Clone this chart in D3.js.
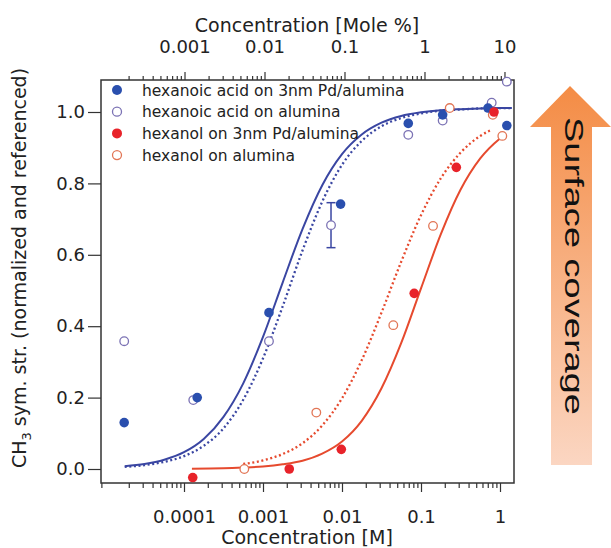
<!doctype html>
<html>
<head>
    <title>Surface coverage isotherms</title>
    <script src="https://d3js.org/d3.v7.min.js"></script>
    <style>
      body { margin: 0; background: white; }
      text { font-family: "DejaVu Sans", Verdana, sans-serif; fill: #222; }
    </style>
</head>
<body>
    <script>
    var width = 611, height = 548;

    // measured points, concentration in M
    var acidPdConc = [1.75e-5, 1.47e-4, 1.19e-3, 9.6e-3, 0.069, 0.188, 0.705, 1.22];
    var acidPdVal  = [0.130, 0.200, 0.438, 0.742, 0.968, 0.992, 1.011, 0.962];

    var acidAlConc = [1.75e-5, 1.31e-4, 1.19e-3, 7.26e-3, 0.069, 0.188, 0.785, 1.22];
    var acidAlVal  = [0.358, 0.193, 0.358, 0.683, 0.936, 0.976, 1.026, 1.085];
    var acidAlErr  = [0, 0, 0, 0.063, 0, 0, 0, 0];

    var olPdConc = [1.29e-4, 2.15e-3, 9.8e-3, 0.082, 0.28, 0.84];
    var olPdVal  = [-0.024, 0.0, 0.055, 0.492, 0.845, 1.0];

    var olAlConc = [5.8e-4, 4.73e-3, 0.0446, 0.142, 0.231, 0.81, 1.07];
    var olAlVal  = [0.0, 0.158, 0.403, 0.681, 1.011, 0.992, 0.933];

    // fitted curves
    var acidFitConc = [1.778e-5, 3.162e-5, 5.623e-5, 1e-4, 1.778e-4, 3.162e-4, 5.623e-4, 1e-3, 1.778e-3,
                       3.162e-3, 5.623e-3, 0.01, 0.01778, 0.03162, 0.05623, 0.1, 0.1778, 0.3162, 0.5623, 1, 1.413];
    var acidPdFit = [0.008, 0.014, 0.026, 0.047, 0.084, 0.146, 0.240, 0.370, 0.523, 0.672, 0.795,
                     0.882, 0.937, 0.970, 0.989, 0.999, 1.005, 1.008, 1.010, 1.011, 1.011];
    var acidAlFit = [0.006, 0.011, 0.020, 0.036, 0.065, 0.114, 0.194, 0.310, 0.456, 0.612, 0.749,
                     0.852, 0.919, 0.960, 0.983, 0.996, 1.004, 1.007, 1.010, 1.011, 1.011];

    var olPdFitConc = [1.26e-4, 3.162e-4, 5.623e-4, 1e-3, 1.778e-3, 3.162e-3, 5.623e-3, 0.01, 0.01778,
                       0.03162, 0.05623, 0.1, 0.1778, 0.3162, 0.5623, 1, 1.096];
    var olPdFit = [0.001, 0.002, 0.004, 0.007, 0.013, 0.023, 0.043, 0.077, 0.135,
                   0.226, 0.353, 0.506, 0.657, 0.782, 0.870, 0.926, 0.933];

    var olAlFitConc = [5.623e-4, 1e-3, 1.778e-3, 3.162e-3, 5.623e-3, 0.01, 0.01778, 0.03162,
                       0.05623, 0.1, 0.1778, 0.3162, 0.5623, 0.7943];
    var olAlFit = [0.014, 0.024, 0.042, 0.072, 0.122, 0.198, 0.305, 0.438, 0.581, 0.711, 0.814, 0.886, 0.933, 0.951];

    var bottomTicks = [0.0001, 0.001, 0.01, 0.1, 1];
    var topTicks = [0.001, 0.01, 0.1, 1, 10];
    var yTicks = [0, 0.2, 0.4, 0.6, 0.8, 1.0];
    var legendLabels = ["hexanoic acid on 3nm Pd/alumina", "hexanoic acid on alumina",
                        "hexanol on 3nm Pd/alumina", "hexanol on alumina"];

    var blueFill = "#2a4fae", blueLine = "#3a46a2", blueOpen = "#7b72b4";
    var redFill = "#e8232a", redLine = "#e64a2e", redOpen = "#e27656";

    // plot box (note: "top" is taken by window.top)
    var boxL = 101, boxR = 514, boxT = 80, boxB = 483;

    var x = d3.scaleLog().domain([Math.pow(10, -5.0506), Math.pow(10, 0.1772)]).range([boxL, boxR]);
    var xTop = d3.scaleLog().domain([Math.pow(10, -4.044), Math.pow(10, 1.119)]).range([boxL, boxR]);
    var y = d3.scaleLinear().domain([0, 1]).range([469, 112]);

    function minorTicks(scale) {
      var d = scale.domain(), out = [];
      for (var e = Math.floor(Math.log10(d[0])); e <= Math.ceil(Math.log10(d[1])); e++) {
        for (var k = 2; k <= 9; k++) {
          var v = k * Math.pow(10, e);
          if (v >= d[0] && v <= d[1]) out.push(v);
        }
      }
      return out;
    }

    var svg = d3.select("body").append("svg")
                .attr("width", width)
                .attr("height", height);

    // arrow on the right
    var grad = svg.append("defs").append("linearGradient")
                  .attr("id", "arrowGrad").attr("x1", 0).attr("y1", 0).attr("x2", 0).attr("y2", 1);
    grad.append("stop").attr("offset", "0%").attr("stop-color", "#f48c45");
    grad.append("stop").attr("offset", "100%").attr("stop-color", "#fbd6c2");

    svg.append("path")
       .attr("d", "M570,86 L611,127 L592,127 L592,465 L551,465 L551,127 L530,127 Z")
       .attr("fill", "url(#arrowGrad)");

    svg.append("text")
       .attr("transform", "translate(565,266) rotate(90)")
       .attr("text-anchor", "middle")
       .attr("textLength", 298)
       .attr("lengthAdjust", "spacingAndGlyphs")
       .style("font-family", "'Liberation Sans', Arial, sans-serif")
       .style("font-size", "26px")
       .style("fill", "#111")
       .text("Surface coverage");

    // axes
    var gBottom = svg.append("g").attr("transform", "translate(0," + boxB + ")");
    gBottom.call(d3.axisBottom(x).tickValues(minorTicks(x)).tickSize(5).tickFormat(""));
    var gBottomMajor = svg.append("g").attr("transform", "translate(0," + boxB + ")");
    gBottomMajor.call(d3.axisBottom(x).tickValues(bottomTicks).tickSize(9).tickFormat(d3.format("~g")));
    gBottomMajor.selectAll("text").attr("y", 40).attr("dy", 0).style("font-size", "18px");

    var gTop = svg.append("g").attr("transform", "translate(0," + boxT + ")");
    gTop.call(d3.axisTop(xTop).tickValues(minorTicks(xTop)).tickSize(4).tickFormat(""));
    var gTopMajor = svg.append("g").attr("transform", "translate(0," + boxT + ")");
    gTopMajor.call(d3.axisTop(xTop).tickValues(topTicks).tickSize(8).tickFormat(d3.format("~g")));
    gTopMajor.selectAll("text").attr("y", -27).attr("dy", 0).style("font-size", "18px");

    var gLeft = svg.append("g").attr("transform", "translate(" + boxL + ",0)");
    gLeft.call(d3.axisLeft(y).tickValues(yTicks).tickSize(13).tickFormat(d3.format(".1f")));
    gLeft.selectAll("text").attr("x", -16).style("font-size", "18px");

    svg.selectAll(".domain").remove();
    svg.selectAll(".tick line").attr("stroke", "#333").attr("stroke-width", 1.2);
    svg.selectAll(".tick text").style("fill", "#222").style("font-family", "'DejaVu Sans', Verdana, sans-serif");

    svg.append("rect")
       .attr("x", boxL).attr("y", boxT)
       .attr("width", boxR - boxL).attr("height", boxB - boxT)
       .attr("fill", "none").attr("stroke", "#333").attr("stroke-width", 1.5);

    // axis titles
    svg.append("text").attr("x", 307).attr("y", 32).attr("text-anchor", "middle")
       .style("font-size", "19px").text("Concentration [Mole %]");
    svg.append("text").attr("x", 307).attr("y", 544).attr("text-anchor", "middle")
       .style("font-size", "19px").text("Concentration [M]");

    var yl = svg.append("text").attr("transform", "translate(26,268) rotate(-90)")
                .attr("text-anchor", "middle").style("font-size", "19px");
    yl.append("tspan").text("CH");
    yl.append("tspan").attr("dy", 5).style("font-size", "13px").text("3");
    yl.append("tspan").attr("dy", -5).text(" sym. str. (normalized and referenced)");

    // fit curves
    var line = d3.line()
                 .x(function(d){ return x(d[0]); })
                 .y(function(d){ return y(d[1]); })
                 .curve(d3.curveMonotoneX);

    function drawCurve(conc, vals, color, dotted) {
      svg.append("path")
         .datum(d3.zip(conc, vals))
         .attr("d", line)
         .attr("fill", "none")
         .attr("stroke", color)
         .attr("stroke-width", dotted ? 2.3 : 2)
         .attr("stroke-dasharray", dotted ? "2,2.6" : null);
    }
    drawCurve(acidFitConc, acidAlFit, blueLine, true);
    drawCurve(acidFitConc, acidPdFit, blueLine, false);
    drawCurve(olAlFitConc, olAlFit, redLine, true);
    drawCurve(olPdFitConc, olPdFit, redLine, false);

    // error bars
    var errs = d3.zip(acidAlConc, acidAlVal, acidAlErr).filter(function(d){ return d[2] > 0; });
    var eb = svg.append("g").attr("stroke", blueLine).attr("stroke-width", 1.5).attr("fill", "none");
    errs.forEach(function(d){
      var cx = x(d[0]);
      eb.append("line").attr("x1", cx).attr("x2", cx).attr("y1", y(d[1] + d[2])).attr("y2", y(d[1] - d[2]));
      eb.append("line").attr("x1", cx - 4.5).attr("x2", cx + 4.5).attr("y1", y(d[1] + d[2])).attr("y2", y(d[1] + d[2]));
      eb.append("line").attr("x1", cx - 4.5).attr("x2", cx + 4.5).attr("y1", y(d[1] - d[2])).attr("y2", y(d[1] - d[2]));
    });

    // markers
    function drawPoints(conc, vals, color, filled) {
      svg.append("g").selectAll("circle")
         .data(d3.zip(conc, vals))
         .enter()
         .append("circle")
         .attr("cx", function(d){ return x(d[0]); })
         .attr("cy", function(d){ return y(d[1]); })
         .attr("r", filled ? 4.8 : 4.3)
         .attr("fill", filled ? color : "white")
         .attr("stroke", filled ? "none" : color)
         .attr("stroke-width", 1.3);
    }
    drawPoints(acidAlConc, acidAlVal, blueOpen, false);
    drawPoints(olAlConc, olAlVal, redOpen, false);
    drawPoints(acidPdConc, acidPdVal, blueFill, true);
    drawPoints(olPdConc, olPdVal, redFill, true);

    // legend
    var legendColors = [blueFill, blueOpen, redFill, redOpen];
    var legendFilled = [true, false, true, false];
    var legend = svg.append("g").selectAll("g")
                    .data(legendLabels)
                    .enter()
                    .append("g")
                    .attr("transform", function(d, i){ return "translate(117," + (90 + i * 21.7) + ")"; });
    legend.append("circle")
          .attr("r", function(d, i){ return legendFilled[i] ? 5 : 4.5; })
          .attr("fill", function(d, i){ return legendFilled[i] ? legendColors[i] : "white"; })
          .attr("stroke", function(d, i){ return legendFilled[i] ? "none" : legendColors[i]; })
          .attr("stroke-width", 1.3);
    legend.append("text")
          .attr("x", 25).attr("y", 5.5)
          .style("font-size", "15.5px")
          .text(function(d){ return d; });
    </script>
</body>
</html>
